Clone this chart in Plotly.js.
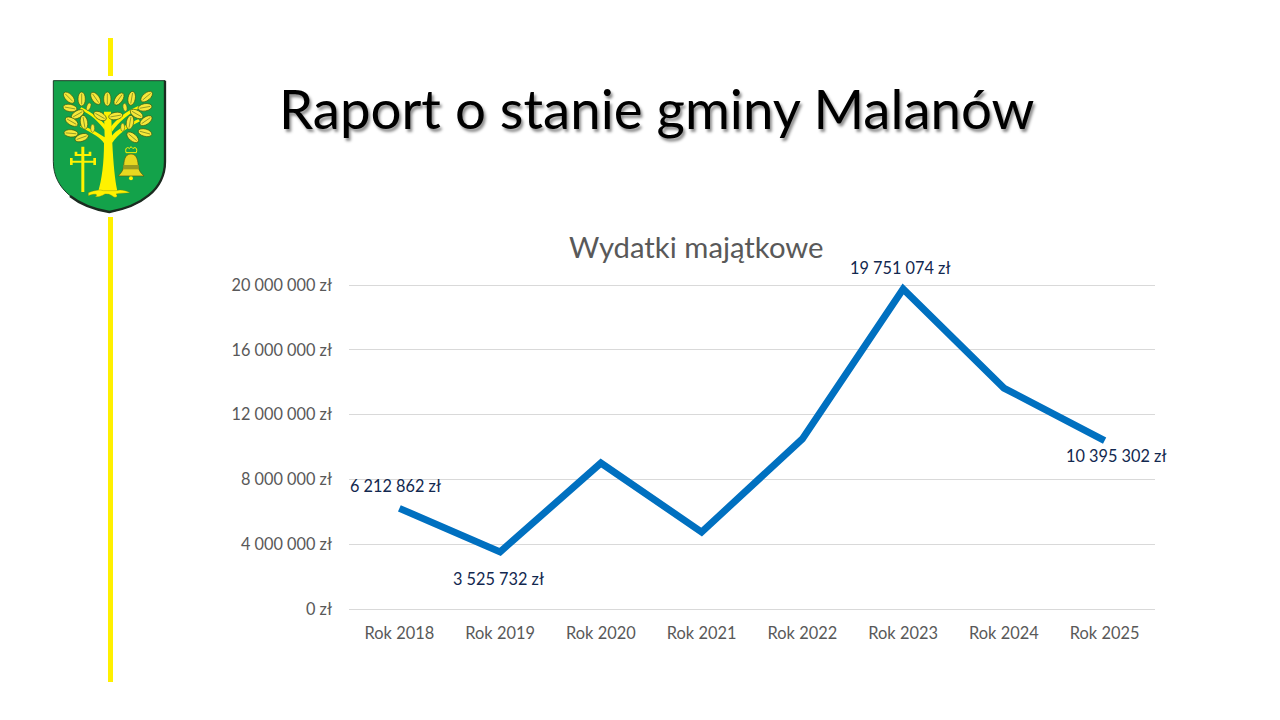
<!DOCTYPE html>
<html><head><meta charset="utf-8">
<script src="https://cdn.plot.ly/plotly-3.0.1.min.js"></script>
<style>html,body{margin:0;padding:0;background:#fff;width:1280px;height:720px;overflow:hidden}
#logo{position:absolute;left:0;top:0}#chart{position:absolute;left:0;top:0;width:1280px;height:720px}</style>
</head><body>
<svg id="logo" width="1280" height="720" viewBox="0 0 1280 720">
<rect x="108" y="38" width="5" height="38" fill="#FFF000"/>
<rect x="108" y="217" width="5" height="465" fill="#FFF000"/>
<g transform="translate(30,30) scale(0.3333)">
<path d="M70 152H405V395C405 480 330 530 238 546C145 530 70 480 70 395Z" fill="#13A24A" stroke="#1d3d28" stroke-width="3"/>
<path d="M405 152V395C405 480 330 530 238 546C190 538 150 522 120 498" fill="none" stroke="#1b2b20" stroke-width="7"/>
<path d="M222 245H243L247 340C250 400 255 450 262 483L205 483C215 450 222 400 222 340C215 325 190 310 150 290L155 284C185 298 208 310 224 322ZM243 320C260 300 285 285 325 268L330 274C295 292 265 310 246 340Z" fill="#FFF200"/>
<path d="M224 300C205 275 185 255 150 238L154 232C190 250 210 268 226 285ZM243 290C258 270 285 245 325 228L329 234C295 252 268 275 246 305Z" fill="#FFF200"/>
<g id="leaves"></g>
<path d="M175 488C195 480 210 478 220 482L258 482C270 478 285 480 300 488C285 490 270 488 258 492C265 498 260 505 250 500C240 492 235 492 225 492C215 498 205 502 195 500C205 495 200 488 175 497Z" fill="#FFF200" stroke="#6b7a10" stroke-width="1"/>
<path d="M154 350H163V372H176V365H184V378H163V392H190V384H198V405H190V398H163V486H154V398H128V405H120V384H128V392H154V378H134V365H142V372H154Z" fill="#FFF200"/>
<path d="M303 372C283 372 282 395 281 410C280 422 270 432 265 438H342C335 432 326 422 325 410C324 395 322 372 303 372Z" fill="#E8D820" stroke="#5a5a10" stroke-width="2"/>
<path d="M280 405H326V418H280Z" fill="#9a9a20"/>
<circle cx="303" cy="445" r="6" fill="#FFF200"/>
<path d="M288 368C284 352 294 350 298 356L303 350L309 356C313 350 324 352 319 368Z" fill="none" stroke="#FFF200" stroke-width="3"/>
</g></svg>
<div id="chart"></div>
<script>
const categories=["Rok 2018","Rok 2019","Rok 2020","Rok 2021","Rok 2022","Rok 2023","Rok 2024","Rok 2025"];
const values=[6212862,3525732,9010000,4750000,10500000,19751074,13640000,10395302];
const tickValues=[0,4000000,8000000,12000000,16000000,20000000];
const labelled=[0,1,5,7];
const labelShift=[[-4,23],[-2,-27],[-3,22],[11,-15]];
const mainTitle="Raport o stanie gminy Malanów";
const chartTitle="Wydatki majątkowe";
const fmt=v=>String(v).replace(/\B(?=(\d{3})+$)/g," ")+" zł";
const F="Lato, sans-serif";
const leaves=[[117,203,-45],[155,207,0],[197,205,-35],[232,207,0],[267,207,35],[305,205,10],[350,200,50],[120,234,-80],[143,253,60],[345,232,80],[320,252,-60],[210,258,-60],[257,258,80],[125,275,-60],[162,277,-10],[300,277,10],[348,272,55],[123,310,-85],[155,323,70],[308,322,-50],[345,308,-75]];
const acorns=[[176,230,20],[285,232,-10],[188,295,0],[278,292,0]];
document.getElementById("leaves").innerHTML=
 leaves.map(l=>`<ellipse cx="${l[0]}" cy="${l[1]}" rx="11" ry="21" transform="rotate(${l[2]} ${l[0]} ${l[1]})" fill="#F5E83A" stroke="#3d5a10" stroke-width="2"/><line x1="${l[0]}" y1="${l[1]-16}" x2="${l[0]}" y2="${l[1]+16}" stroke="#3d5a10" stroke-width="1.5" transform="rotate(${l[2]} ${l[0]} ${l[1]})"/>`).join("")+
 acorns.map(l=>`<ellipse cx="${l[0]}" cy="${l[1]}" rx="6" ry="12" transform="rotate(${l[2]} ${l[0]} ${l[1]})" fill="#F5E83A" stroke="#3d5a10" stroke-width="1.5"/>`).join("");
const W=1280,H=720;
const ann=labelled.map((i,k)=>({x:categories[i],y:values[i],xref:"x",yref:"y",text:fmt(values[i]),showarrow:false,
  xshift:labelShift[k][0],yshift:labelShift[k][1],font:{family:F,size:16.3,color:"#12284f"}}));
ann.push({xref:"paper",yref:"paper",x:(656-349)/806,y:(609-108)/329,text:mainTitle,showarrow:false,xanchor:"center",yanchor:"middle",
  font:{family:F,size:54.6,color:"#000",shadow:"2px 3px 3px rgba(0,0,0,0.45)"}});
ann.push({xref:"paper",yref:"paper",x:(696-349)/806,y:(609-246)/329,text:chartTitle,showarrow:false,xanchor:"center",yanchor:"middle",
  font:{family:F,size:29.3,color:"#595959"}});
Plotly.newPlot("chart",[{type:"scatter",mode:"lines",x:categories,y:values,line:{color:"#0070C0",width:7,shape:"linear"},hoverinfo:"skip"}],{
 width:W,height:H,paper_bgcolor:"rgba(0,0,0,0)",plot_bgcolor:"rgba(0,0,0,0)",showlegend:false,
 margin:{l:349,r:125,t:280,b:111,pad:0},
 xaxis:{type:"category",range:[-0.5,7.5],showgrid:false,zeroline:false,showline:false,ticks:"",ticklabelstandoff:13,tickfont:{family:F,size:16.4,color:"#595959"}},
 yaxis:{range:[0,20308642],tickvals:tickValues,ticktext:tickValues.map(fmt),showgrid:true,gridcolor:"#D9D9D9",gridwidth:1,zeroline:true,zerolinecolor:"#D9D9D9",zerolinewidth:1,showline:false,ticks:"",ticklabelstandoff:16,tickfont:{family:F,size:16.3,color:"#595959"},automargin:false},
 annotations:ann
},{displayModeBar:false,staticPlot:true});
</script></body></html>
